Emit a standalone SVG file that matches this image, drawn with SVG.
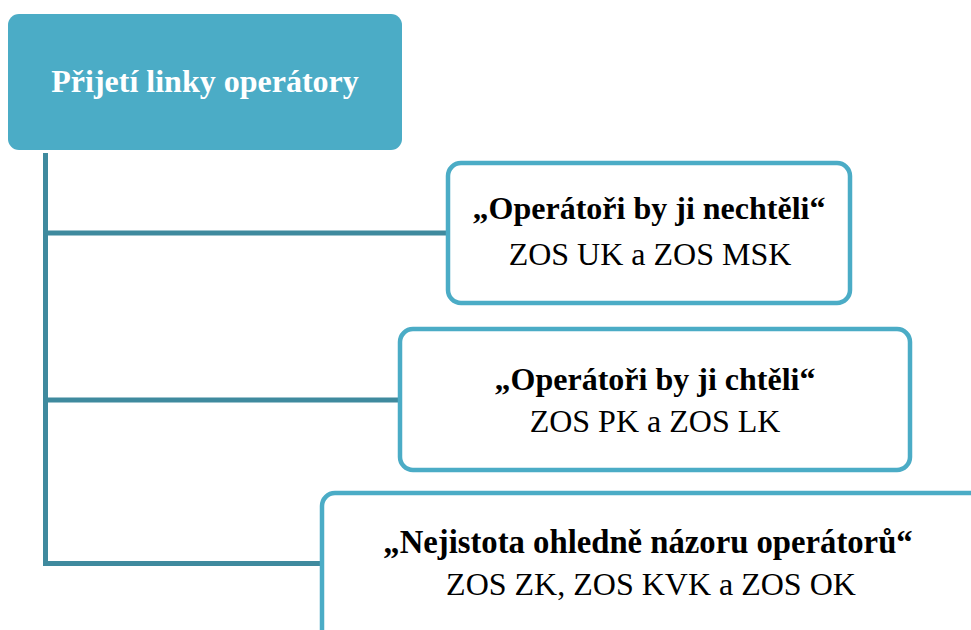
<svg xmlns="http://www.w3.org/2000/svg" width="971" height="630" viewBox="0 0 971 630">
<style>
.conn{stroke:#3F8A9E;stroke-width:5;fill:none}
.child{fill:#FFFFFF;stroke:#4BACC6;stroke-width:4.5}
</style>
<rect width="971" height="630" fill="#FFFFFF"/>
<g id="connectors">
<path class="conn" d="M45.5,153 V563.5 H322"/>
<path class="conn" d="M45.5,233 H448"/>
<path class="conn" d="M45.5,400 H400"/>
</g>
<g id="root">
<rect x="8" y="14" width="394" height="136" rx="11" fill="#4BACC6"/>
<text x="205" y="92" font-family="Liberation Serif, serif" font-size="32" text-anchor="middle" font-weight="bold" fill="#FFFFFF">Přijetí linky operátory</text>
</g>
<g id="node1">
<rect class="child" x="448" y="163" width="402" height="140" rx="13"/>
<text x="649" y="219" font-family="Liberation Serif, serif" font-size="32" text-anchor="middle" font-weight="bold" fill="#000000">„Operátoři by ji nechtěli“</text>
<text x="650" y="265" font-family="Liberation Serif, serif" font-size="32" text-anchor="middle" fill="#000000">ZOS UK a ZOS MSK</text>
</g>
<g id="node2">
<rect class="child" x="400" y="329" width="510" height="141" rx="13"/>
<text x="655" y="390" font-family="Liberation Serif, serif" font-size="32" text-anchor="middle" font-weight="bold" fill="#000000">„Operátoři by ji chtěli“</text>
<text x="655" y="432" font-family="Liberation Serif, serif" font-size="32" text-anchor="middle" fill="#000000">ZOS PK a ZOS LK</text>
</g>
<g id="node3">
<rect class="child" x="322" y="493" width="700" height="200" rx="13"/>
<text x="648" y="553" font-family="Liberation Serif, serif" font-size="32.7" text-anchor="middle" font-weight="bold" fill="#000000">„Nejistota ohledně názoru operátorů“</text>
<text x="651" y="595" font-family="Liberation Serif, serif" font-size="32" text-anchor="middle" fill="#000000">ZOS ZK, ZOS KVK a ZOS OK</text>
</g>
</svg>
